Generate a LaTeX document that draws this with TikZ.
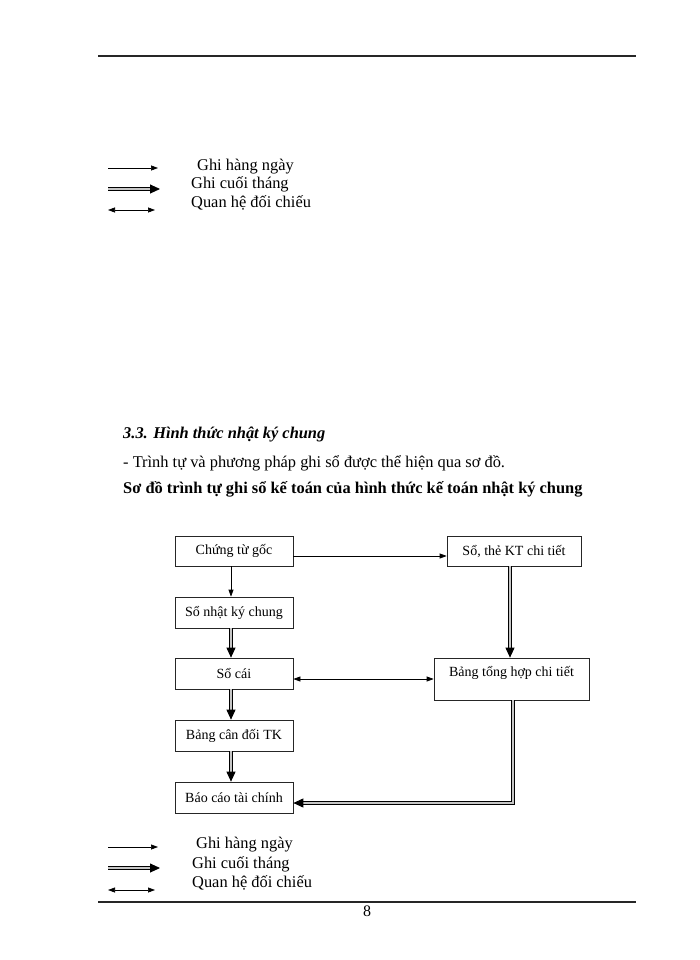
\documentclass[tikz,border=0pt]{standalone}
\usepackage{fontspec}
\setmainfont{Liberation Serif}
\usetikzlibrary{arrows.meta}
\begin{document}
\begin{tikzpicture}[x=1pt,y=-1pt,
  box/.style={draw=black!85,line width=0.7pt,inner sep=0pt,font=\fontsize{14}{16}\selectfont},
  daily/.style={draw=black,line width=0.7pt,-{Triangle[length=7pt,width=5pt]}},
  monthly/.style={draw=black,line width=0.9pt,double=gray!45,double distance=1.5pt,-{Triangle[length=10pt,width=9pt]}},
  compare/.style={draw=black,line width=0.7pt,{Triangle[length=7pt,width=5pt]}-{Triangle[length=7pt,width=5pt]}},
  legtext/.style={anchor=west,inner sep=0pt,font=\fontsize{16.4}{18}\selectfont},
  bodytext/.style={anchor=base west,inner sep=0pt,font=\fontsize{16.4}{18}\selectfont},
  rule/.style={draw=black!85,line width=1.6pt}]
\useasboundingbox[fill=white] (0,0) rectangle (700,960);
% rules
\coordinate (rt1) at (98,56); \coordinate (rt2) at (636,56);
\draw[rule] (rt1) -- (rt2);
\coordinate (rb1) at (98,902); \coordinate (rb2) at (636,902);
\draw[rule] (rb1) -- (rb2);
\node[inner sep=0pt,font=\fontsize{16}{18}\selectfont] (pg) at (367,911) {8};
% top legend
\coordinate (ta1) at (108,168); \coordinate (tb1) at (158,168);
\coordinate (ta2) at (108,189); \coordinate (tb2) at (160,189);
\coordinate (ta3) at (108,210); \coordinate (tb3) at (155,210);
\draw[daily] (ta1) -- (tb1);
\draw[monthly] (ta2) -- (tb2);
\draw[compare] (ta3) -- (tb3);
\node[legtext] (tl1) at (197,167) {Ghi hàng ngày};
\node[legtext] (tl2) at (191,184) {Ghi cuối tháng};
\node[legtext] (tl3) at (191,203) {Quan hệ đối chiếu};
% headings
\node[bodytext,font=\fontsize{16.4}{18}\selectfont\bfseries\itshape] (h1) at (123,438) {3.3. Hình thức nhật ký chung};
\node[bodytext] (h2) at (123,467) {- Trình tự và phương pháp ghi sổ được thể hiện qua sơ đồ.};
\node[bodytext,font=\fontsize{16.4}{18}\selectfont\bfseries] (h3) at (123,493) {Sơ đồ trình tự ghi sổ kế toán của hình thức kế toán nhật ký chung};
% boxes
\node[box,minimum width=118pt,minimum height=30pt] (cg) at (234,551) {Chứng từ gốc};
\node[box,minimum width=134pt,minimum height=30pt] (st) at (514,551) {Sổ, thẻ KT chi tiết};
\node[box,minimum width=118pt,minimum height=31pt] (nk) at (234,612.5) {Sổ nhật ký chung};
\node[box,minimum width=118pt,minimum height=31pt] (sc) at (234,673.5) {Sổ cái};
\node[box,minimum width=155pt,minimum height=42pt,text depth=15pt] (bt) at (511.5,679) {Bảng tổng hợp chi tiết};
\node[box,minimum width=118pt,minimum height=31pt] (bc) at (234,735.5) {Bảng cân đối TK};
\node[box,minimum width=118pt,minimum height=31pt] (bctc) at (234,797.5) {Báo cáo tài chính};
% connectors
\draw[daily] ([yshift=-5pt]cg.east) -- ([yshift=-5pt]st.west);
\draw[daily] ([xshift=-3pt]cg.south) -- ([xshift=-3pt]nk.north);
\draw[monthly] ([xshift=-3pt]nk.south) -- ([xshift=-3pt]sc.north);
\draw[monthly] ([xshift=-4pt]st.south) -- ([xshift=-1.5pt]bt.north);
\draw[compare] (sc.east |- bt.west) -- (bt.west);
\draw[monthly] ([xshift=-3pt]sc.south) -- ([xshift=-3pt]bc.north);
\draw[monthly] ([xshift=-3pt]bc.south) -- ([xshift=-3pt]bctc.north);
\draw[monthly] ([xshift=1.5pt]bt.south) |- ([yshift=-5.5pt]bctc.east);
% bottom legend
\coordinate (ba1) at (108,847); \coordinate (bb1) at (158,847);
\coordinate (ba2) at (108,868); \coordinate (bb2) at (160,868);
\coordinate (ba3) at (108,890); \coordinate (bb3) at (155,890);
\draw[daily] (ba1) -- (bb1);
\draw[monthly] (ba2) -- (bb2);
\draw[compare] (ba3) -- (bb3);
\node[legtext] (bl1) at (196,845) {Ghi hàng ngày};
\node[legtext] (bl2) at (192,864) {Ghi cuối tháng};
\node[legtext] (bl3) at (192,883) {Quan hệ đối chiếu};
\end{tikzpicture}
\end{document}
